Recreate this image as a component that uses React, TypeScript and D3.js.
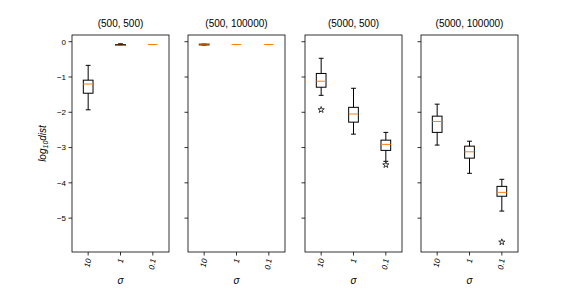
import React from "react";
import * as d3 from "d3";

// panel titles and sigma categories
const titles = ["(500, 500)", "(500, 100000)", "(5000, 500)", "(5000, 100000)"];
const sigmas = ["10", "1", "0.1"];

// box stats per panel: [whiskerHigh, q3, median, q1, whiskerLow]
const panel1 = [
  [-0.67, -1.09, -1.2, -1.46, -1.93],
  [-0.06, -0.08, -0.1, -0.1, -0.1],
  [-0.08, -0.08, -0.08, -0.08, -0.08],
];
const panel2 = [
  [-0.07, -0.07, -0.07, -0.09, -0.09],
  [-0.08, -0.08, -0.08, -0.08, -0.08],
  [-0.08, -0.08, -0.08, -0.08, -0.08],
];
const panel3 = [
  [-0.47, -0.9, -1.12, -1.29, -1.52],
  [-1.32, -1.86, -2.05, -2.28, -2.62],
  [-2.57, -2.79, -2.91, -3.08, -3.39],
];
const panel4 = [
  [-1.77, -2.11, -2.26, -2.57, -2.93],
  [-2.82, -2.96, -3.12, -3.3, -3.73],
  [-3.9, -4.1, -4.27, -4.38, -4.8],
];
const panels = [panel1, panel2, panel3, panel4];

// fliers per panel, as [categoryIndex, value]
const fliers = [[], [], [[0, -1.93], [2, -3.49]], [[2, -5.68]]];

const yTicks = [0, -1, -2, -3, -4, -5];

const width = 576;
const height = 288;
const panelLefts = [72, 188, 305, 421];
const panelWidth = 97;
const top = 35;
const bottom = 252;
const font = "'Liberation Sans', Arial, sans-serif";

const App = () => {
  const y = d3.scaleLinear().domain([-5.96, 0.19]).range([bottom, top]);
  const star = d3.symbol().type(d3.symbolStar).size(12)();

  return (
    <svg width={width} height={height} style={{ position: "absolute", left: 0, top: 0 }} fontFamily={font}>
      <rect width={width} height={height} fill="white" />
      {panels.map((boxes, pi) => {
        const left = panelLefts[pi];
        const x = d3.scaleLinear().domain([0.5, 3.5]).range([left, left + panelWidth]);
        const bw = x(1.3) - x(1);
        return (
          <g key={pi}>
            <text x={left + panelWidth / 2} y={top - 8} fontSize={10} textAnchor="middle">{titles[pi]}</text>
            {yTicks.map((t) => (
              <g key={t}>
                <line x1={left - 3.5} x2={left} y1={y(t)} y2={y(t)} stroke="black" strokeWidth={0.8} />
                {pi === 0 && (
                  <text x={left - 6} y={y(t)} dy="0.35em" fontSize={8} textAnchor="end">
                    {t === 0 ? "0" : "\u2212" + Math.abs(t)}
                  </text>
                )}
              </g>
            ))}
            {sigmas.map((s, i) => {
              const cx = x(i + 1);
              const [hi, q3, med, q1, lo] = boxes[i];
              return (
                <g key={s}>
                  <line x1={cx} x2={cx} y1={bottom} y2={bottom + 3.5} stroke="black" strokeWidth={0.8} />
                  <text
                    transform={`translate(${cx + 3},${bottom + 7}) rotate(-80)`}
                    fontSize={8}
                    fontStyle="italic"
                    textAnchor="end"
                  >
                    {s}
                  </text>
                  <line x1={cx} x2={cx} y1={y(hi)} y2={y(q3)} stroke="black" strokeWidth={1} />
                  <line x1={cx} x2={cx} y1={y(q1)} y2={y(lo)} stroke="black" strokeWidth={1} />
                  <line x1={cx - bw / 4} x2={cx + bw / 4} y1={y(hi)} y2={y(hi)} stroke="black" strokeWidth={1} />
                  <line x1={cx - bw / 4} x2={cx + bw / 4} y1={y(lo)} y2={y(lo)} stroke="black" strokeWidth={1} />
                  <rect x={cx - bw / 2} y={y(q3)} width={bw} height={y(q1) - y(q3)} fill="none" stroke="black" strokeWidth={1} />
                  <line x1={cx - bw / 2} x2={cx + bw / 2} y1={y(med)} y2={y(med)} stroke="#ff7f0e" strokeWidth={1} />
                </g>
              );
            })}
            {fliers[pi].map(([ci, v], k) => (
              <path key={k} d={star} transform={`translate(${x(ci + 1)},${y(v)})`} fill="none" stroke="#333" strokeWidth={1} />
            ))}
            <rect x={left} y={top} width={panelWidth} height={bottom - top} fill="none" stroke="black" strokeWidth={0.8} />
            <text x={left + panelWidth / 2} y={284} fontSize={10} fontStyle="italic" textAnchor="middle">σ</text>
          </g>
        );
      })}
      <text transform={`translate(46,${(top + bottom) / 2}) rotate(-90)`} fontSize={10} fontStyle="italic" textAnchor="middle">
        log<tspan fontSize={7} dy={2}>10</tspan><tspan dy={-2}>dist</tspan>
      </text>
    </svg>
  );
};

export default App;
